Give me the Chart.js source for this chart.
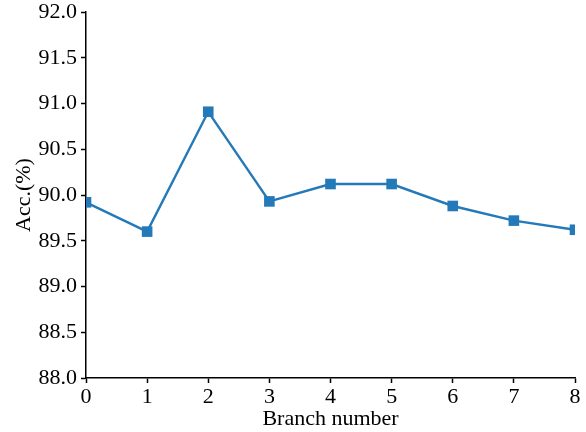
<!DOCTYPE html>
<html>
<head>
<meta charset="utf-8">
<script src="https://cdn.jsdelivr.net/npm/chart.js@4/dist/chart.umd.min.js"></script>
<style>
  html, body { margin: 0; padding: 0; background: #fff; }
  #wrap { width: 586px; height: 432px; }
</style>
</head>
<body>
<div id="wrap"><canvas id="accChart" width="586" height="432"></canvas></div>
<script>
const branchNumbers = [0, 1, 2, 3, 4, 5, 6, 7, 8];
const accValues = [89.92, 89.60, 90.91, 89.93, 90.12, 90.12, 89.88, 89.72, 89.62];
const yTicks = [88.0, 88.5, 89.0, 89.5, 90.0, 90.5, 91.0, 91.5, 92.0];

const serif = "'Liberation Serif', 'DejaVu Serif', serif";
const lineColor = "#2479b8";

const ctx = document.getElementById("accChart").getContext("2d");

new Chart(ctx, {
  type: "line",
  data: {
    datasets: [{
      label: "Acc.(%)",
      data: branchNumbers.map((b, i) => ({ x: b, y: accValues[i] })),
      borderColor: lineColor,
      backgroundColor: lineColor,
      borderWidth: 2.4,
      pointStyle: "rect",
      pointRadius: 7.5,
      pointHoverRadius: 7.5,
      pointBorderWidth: 0,
      tension: 0,
      clip: 0
    }]
  },
  options: {
    responsive: false,
    animation: false,
    layout: { padding: { top: 12, right: 11, left: 0, bottom: 0 } },
    plugins: {
      legend: { display: false },
      tooltip: { enabled: false }
    },
    scales: {
      x: {
        type: "linear",
        min: 0,
        max: 8,
        afterFit: scale => {
          scale.height = 54;
          scale.paddingLeft = 0;
          scale.paddingRight = 0;
        },
        ticks: {
          stepSize: 1,
          color: "#000",
          padding: 1,
          font: { family: serif, size: 22 }
        },
        grid: { drawOnChartArea: false, tickLength: 5, tickColor: "#000", tickWidth: 1.5 },
        border: { color: "#000", width: 1.5 },
        title: {
          display: true,
          text: "Branch number",
          color: "#000",
          padding: { top: -2, bottom: 0 },
          font: { family: serif, size: 22 }
        }
      },
      y: {
        min: 88,
        max: 92,
        afterFit: scale => {
          scale.width = 86;
          scale.paddingTop = 0;
          scale.paddingBottom = 0;
        },
        afterBuildTicks: scale => { scale.ticks = yTicks.map(v => ({ value: v })); },
        ticks: {
          color: "#000",
          padding: 4,
          font: { family: serif, size: 22 },
          callback: v => v.toFixed(1)
        },
        grid: { drawOnChartArea: false, tickLength: 5, tickColor: "#000", tickWidth: 1.5 },
        border: { color: "#000", width: 1.5 },
        title: {
          display: true,
          text: "Acc.(%)",
          color: "#000",
          padding: { top: 11, bottom: 0 },
          font: { family: serif, size: 22 }
        }
      }
    }
  }
});
</script>
</body>
</html>
